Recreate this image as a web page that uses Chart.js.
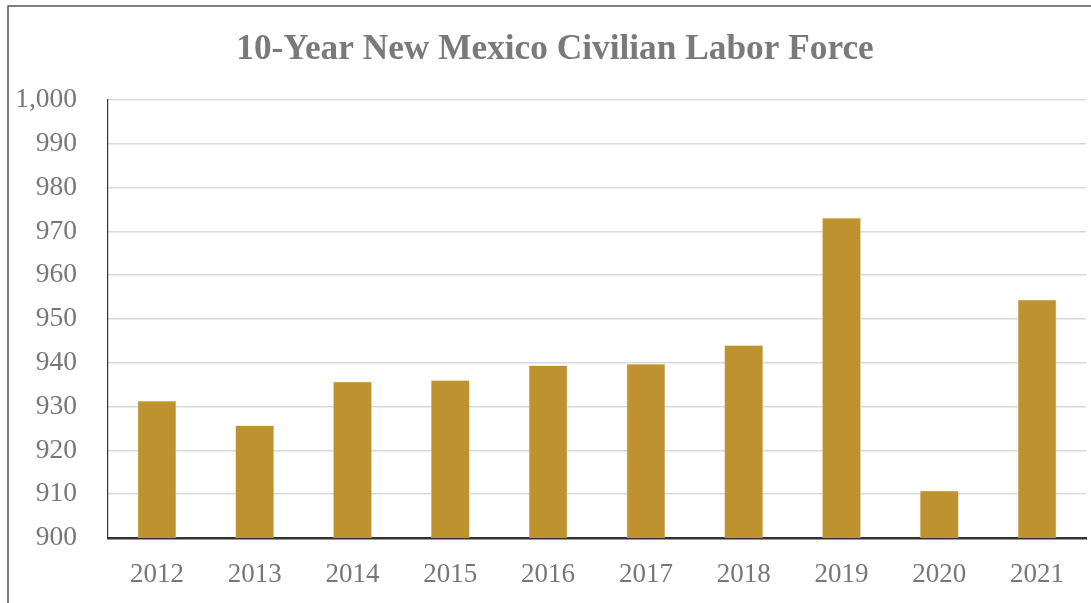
<!DOCTYPE html>
<html>
<head>
<meta charset="utf-8">
<script src="https://cdn.jsdelivr.net/npm/chart.js@4"></script>
<style>
  html, body { margin: 0; padding: 0; background: #fff; }
  #wrap { position: absolute; left: 0; top: 0; width: 1091px; height: 603px; }
</style>
</head>
<body>
<div id="wrap"><canvas id="c" width="1091" height="603"></canvas></div>
<script>
const titleText = "10-Year New Mexico Civilian Labor Force";
const years = ["2012", "2013", "2014", "2015", "2016", "2017", "2018", "2019", "2020", "2021"];
const laborForce = [931.3, 925.7, 935.7, 936.0, 939.4, 939.7, 944.0, 973.1, 910.8, 954.4];
const yMin = 900;
const yMax = 1000;
const yStep = 10;

const frameAndTitle = {
  id: 'frameAndTitle',
  afterDraw(chart) {
    const ctx = chart.ctx;
    ctx.save();
    ctx.strokeStyle = '#555555';
    ctx.lineWidth = 1.5;
    ctx.beginPath();
    ctx.moveTo(8, 603);
    ctx.lineTo(8, 6);
    ctx.lineTo(1091, 6);
    ctx.stroke();
    ctx.fillStyle = '#7A7A7A';
    ctx.font = 'bold 35.3px "Liberation Serif"';
    ctx.textAlign = 'center';
    ctx.textBaseline = 'middle';
    ctx.fillText(titleText, 555, 50);
    ctx.restore();
  }
};

new Chart(document.getElementById('c'), {
  type: 'bar',
  data: {
    labels: years,
    datasets: [{
      data: laborForce,
      backgroundColor: '#BE922F',
      borderColor: '#D8BC7E',
      borderWidth: 0.6,
      borderSkipped: 'bottom',
      categoryPercentage: 1,
      barPercentage: 0.395
    }]
  },
  options: {
    responsive: false,
    animation: false,
    devicePixelRatio: 1,
    layout: { padding: { top: 100, right: 5, bottom: 0, left: 0 } },
    plugins: {
      legend: { display: false },
      tooltip: { enabled: false },
      title: { display: false }
    },
    scales: {
      x: {
        grid: { display: false, drawTicks: false },
        border: { display: true, color: '#333333', width: 2.5 },
        ticks: {
          color: '#777777',
          font: { family: 'Liberation Serif', size: 27 },
          padding: 21
        },
        afterFit(scale) { scale.height = 65; }
      },
      y: {
        min: yMin,
        max: yMax,
        grid: { color: '#D9D9D9', lineWidth: 1.5, drawTicks: false },
        border: { display: true, color: '#333333', width: 1.2 },
        ticks: {
          stepSize: yStep,
          color: '#777777',
          font: { family: 'Liberation Serif', size: 27.5 },
          padding: 31,
          callback: (v) => v.toLocaleString('en-US')
        },
        afterFit(scale) { scale.width = 108; }
      }
    }
  },
  plugins: [frameAndTitle]
});
</script>
</body>
</html>
